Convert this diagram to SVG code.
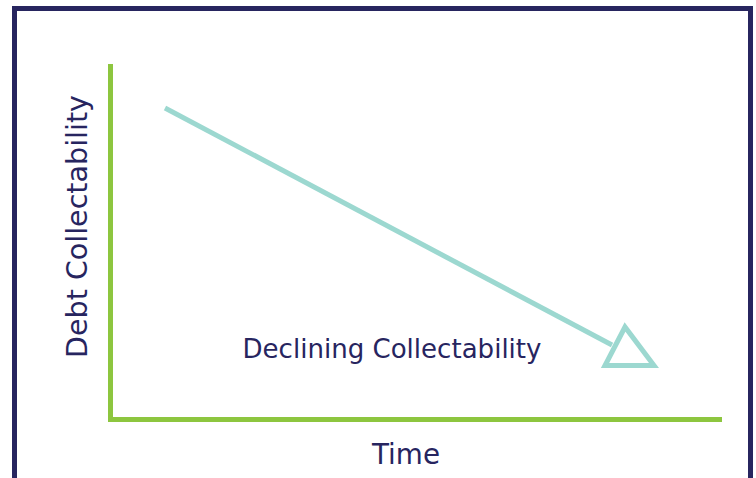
<svg xmlns="http://www.w3.org/2000/svg" width="756" height="478" viewBox="0 0 756 478">
<style>
.t{font-family:"DejaVu Sans","Verdana",sans-serif;fill:#27255f;}
.ax{stroke:#8dc63f;stroke-width:5;fill:none;}
.tl{stroke:#9cd8d0;stroke-width:5;fill:none;}
</style>
<rect width="756" height="478" fill="#ffffff"/>
<g id="frame"><rect x="14.5" y="8.5" width="736" height="500" fill="none" stroke="#27255f" stroke-width="5"/></g>
<g id="connectors">
<path class="ax" d="M110.5 64 V419.5 H722"/>
<line class="tl" x1="165" y1="108" x2="612" y2="345"/>
<polygon class="tl" points="625,327 605,365.5 654,365.5" stroke-linejoin="miter"/>
</g>
<g id="y-label"><text class="t" font-size="29" text-anchor="middle" textLength="263" lengthAdjust="spacingAndGlyphs" transform="translate(87,226.5) rotate(-90)">Debt Collectability</text></g>
<g id="trend-label"><text class="t" font-size="27" x="392" y="358" text-anchor="middle" textLength="299" lengthAdjust="spacingAndGlyphs">Declining Collectability</text></g>
<g id="x-label"><text class="t" font-size="29" x="406" y="464" text-anchor="middle" textLength="68" lengthAdjust="spacingAndGlyphs">Time</text></g>
</svg>
